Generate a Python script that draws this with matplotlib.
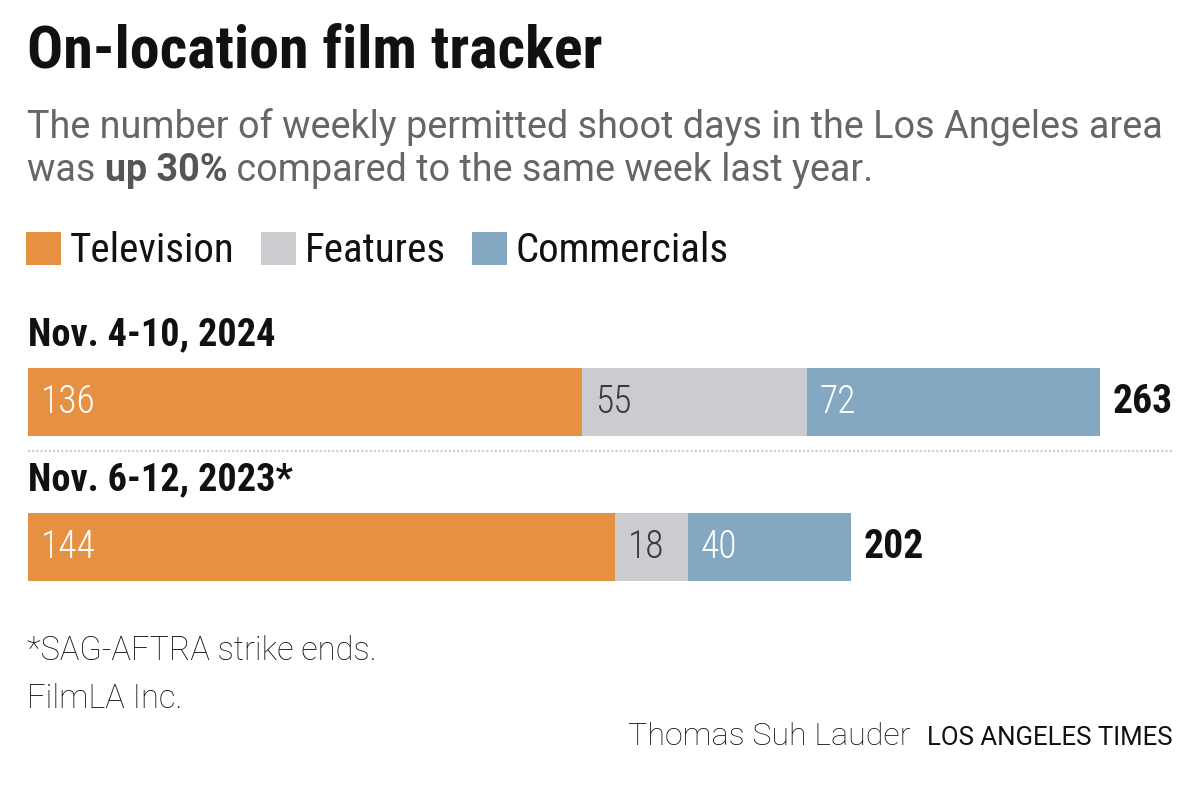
"""
On-location film tracker: stacked horizontal bars of weekly shoot days.
"""

import matplotlib
matplotlib.use("Agg")
import matplotlib.pyplot as plt
from matplotlib import font_manager
from matplotlib.patches import Rectangle

# 数据
weeks = ["Nov. 4-10, 2024", "Nov. 6-12, 2023*"]
categories = ["Television", "Features", "Commercials"]
television = [136, 144]
features = [55, 18]
commercials = [72, 40]
series = [television, features, commercials]

colors = ["#E69142", "#CBCCD0", "#84A7C2"]
label_colors = ["white", "#3a3a3a", "white"]

W, H = 1200, 786


def pick(*names):
    """返回第一个已安装的字体"""
    installed = {f.name for f in font_manager.fontManager.ttflist}
    for n in names:
        if n in installed:
            return n
    return "DejaVu Sans"


NARROW = pick("Roboto Condensed", "Liberation Sans Narrow", "DejaVu Sans")
SANS = pick("Roboto", "Open Sans", "DejaVu Sans")


def px(x, y):
    """像素坐标 -> 图形坐标"""
    return x / W, 1 - y / H


def fit(t, width):
    """按目标像素宽度调整字号"""
    fig.canvas.draw()
    w = t.get_window_extent().width
    t.set_fontsize(t.get_fontsize() * width / w)
    return t


fig = plt.figure(figsize=(W / 100, H / 100), dpi=100)

# 标题和副标题
fit(fig.text(*px(27, 68), "On-location film tracker", fontsize=42, fontweight="bold",
             family=NARROW, va="baseline", color="#111111"), 575)
sub = dict(fontsize=24, family=SANS, color="#666666")
fit(fig.text(*px(27, 138), "The number of weekly permitted shoot days in the Los Angeles area",
             va="baseline", **sub), 1134)
fs = fig.texts[-1].get_fontsize()
sub["fontsize"] = fs
p1 = fig.text(*px(27, 181), "was ", va="baseline", **sub)
fig.canvas.draw()
x = 27 + p1.get_window_extent().width
p2 = fig.text(*px(x, 181), "up 30%", va="baseline", **{**sub, "fontweight": "bold",
                                                       "color": "#555555"})
fig.canvas.draw()
x += p2.get_window_extent().width
fig.text(*px(x, 181), " compared to the same week last year.", va="baseline", **sub)

# 图例
lx = 26
for cat, col in zip(categories, colors):
    x0, y0 = px(lx, 265)
    fig.add_artist(Rectangle((x0, y0), 35 / W, 33 / H, transform=fig.transFigure,
                             facecolor=col, edgecolor="none"))
    t = fig.text(*px(lx + 44, 250), cat, fontsize=29.5, family=NARROW, va="center",
                 color="#111111")
    fig.canvas.draw()
    bb = t.get_window_extent()
    lx = bb.x1 + 26

# 条形图
scale = 1072 / 263  # 每单位像素
ax = fig.add_axes([28 / W, (H - 581) / H, 1144 / W, 213 / H])
ax.set_xlim(0, 1144 / scale)
bar_h = 68 / 145
ax.set_ylim(1 + bar_h / 2, -bar_h / 2)
ax.axis("off")

left = [0] * len(weeks)
for vals, col, lc in zip(series, colors, label_colors):
    ax.barh(range(len(weeks)), vals, left=left, height=bar_h, color=col, linewidth=0)
    for i, v in enumerate(vals):
        ax.annotate(str(v), xy=(left[i], i), xytext=(9, 0), textcoords="offset points",
                    va="center", ha="left", fontsize=27, family=NARROW,
                    fontweight="light", color=lc)
    left = [l + v for l, v in zip(left, vals)]

for i, total in enumerate(left):
    ax.annotate(str(total), xy=(total, i), xytext=(9, 0), textcoords="offset points",
                va="center", ha="left", fontsize=28.5, family=NARROW, fontweight="bold",
                color="#111111")
    ax.text(0, i - bar_h / 2 - 23 / 145, weeks[i], fontsize=27.5, family=NARROW,
            fontweight="bold", va="baseline", ha="left", color="#111111")

ax.axhline(bar_h / 2 + 15 / 145, color="#cccccc", linestyle=(0, (1, 1)), linewidth=1.5)

# 脚注
fit(fig.text(*px(27, 660), "*SAG-AFTRA strike ends.", fontsize=20, family=SANS,
             fontweight="light", color="#111111", va="baseline"), 350)
fn = fig.texts[-1].get_fontsize()
fig.text(*px(27, 708), "FilmLA Inc.", fontsize=fn, family=SANS, fontweight="light",
         color="#111111", va="baseline")
fit(fig.text(*px(1173, 745), "LOS ANGELES TIMES", fontsize=17, family=SANS,
             color="#111111", va="baseline", ha="right"), 246)
fit(fig.text(*px(910, 745), "Thomas Suh Lauder", fontsize=21, family=SANS,
             fontweight="light", color="#111111", va="baseline", ha="right"), 282)

fig.savefig("out.png", dpi=100)
